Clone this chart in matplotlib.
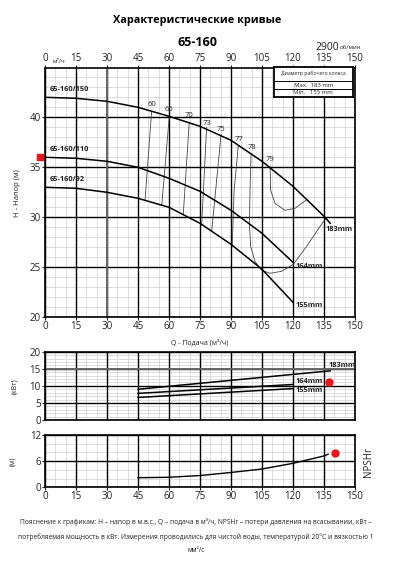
import matplotlib
matplotlib.use("Agg")
import matplotlib.pyplot as plt
import numpy as np

plt.rcParams['font.family'] = ['Open Sans', 'DejaVu Sans']

# ---------------- data ----------------
q_ticks = [0, 15, 30, 45, 60, 75, 90, 105, 120, 135, 150]
h_ticks = [20, 25, 30, 35, 40]

q_h183 = [0, 15, 30, 45, 60, 75, 90, 105, 120, 135, 138]
h_183 = [42.0, 41.9, 41.6, 41.0, 40.1, 39.1, 37.7, 35.6, 33.1, 30.1, 29.4]
q_h164 = [0, 15, 30, 45, 60, 75, 90, 105, 120]
h_164 = [36.0, 35.9, 35.6, 35.0, 33.9, 32.6, 30.7, 28.4, 25.5]
q_h155 = [0, 15, 30, 45, 60, 75, 90, 105, 120]
h_155 = [33.0, 32.9, 32.5, 31.9, 31.0, 29.4, 27.3, 24.8, 21.5]

eff_labels = ["60", "65", "70", "73", "75", "77", "78", "79"]
eff_q = [
    [51.6, 48.4],
    [60.1, 56.5],
    [69.8, 66.9],
    [78.2, 75.8],
    [85.2, 80.7],
    [93.5, 91.5, 90.6],
    [99.7, 99.2, 98.9, 99.5, 101.6, 104.8, 108.9, 114.5, 120.2, 126.6, 133.1, 136.0],
    [108.9, 109.2, 111.3, 116.1, 121.0, 126.9],
]
eff_h = [
    [40.6, 31.7],
    [40.0, 31.2],
    [39.5, 30.3],
    [39.0, 29.2],
    [38.3, 28.7],
    [37.1, 32.7, 27.1],
    [36.4, 32.7, 29.4, 27.1, 25.6, 24.7, 24.4, 24.6, 25.3, 27.1, 29.1, 29.9],
    [35.1, 32.7, 31.4, 30.7, 30.9, 31.8],
]
eff_label_q = [51.6, 60.0, 69.8, 78.5, 85.2, 93.8, 100.0, 108.9]
eff_label_h = [41.3, 40.8, 40.2, 39.4, 38.8, 37.8, 37.0, 35.8]

p_ticks = [0, 5, 10, 15, 20]
q_p183 = [45, 138]
p_183 = [9.0, 14.4]
q_p164 = [45, 120]
p_164 = [7.8, 10.4]
q_p155 = [45, 120]
p_155 = [6.6, 9.2]

n_ticks = [0, 6, 12]
q_npsh = [45, 60, 75, 90, 105, 120, 135, 137]
npsh = [2.2, 2.3, 2.7, 3.4, 4.2, 5.5, 7.2, 7.6]

# ---------------- figure ----------------
W, H = 394, 567
fig = plt.figure(figsize=(W / 100, H / 100), dpi=100)

def fx(px):
    return px / W

def fy(py):
    return 1 - py / H

def frac_box(x0, y0, x1, y1):
    return [fx(x0), fy(y1), fx(x1) - fx(x0), fy(y0) - fy(y1)]

TXT = '#222222'

def grid(ax, xminor, yminor, ymajor, ylim):
    for x in np.arange(0, 150.01, xminor):
        ax.axvline(x, color='#cfcfcf', lw=0.5, zorder=0)
    for y in np.arange(ylim[0], ylim[1] + 0.01, yminor):
        ax.axhline(y, color='#cfcfcf', lw=0.5, zorder=0)
    for x in q_ticks:
        ax.axvline(x, color='black', lw=1.0, zorder=1)
    for y in ymajor:
        ax.axhline(y, color='black', lw=1.0, zorder=1)
    for s in ax.spines.values():
        s.set_linewidth(1.2)
    ax.set_xlim(0, 150)
    ax.set_ylim(*ylim)
    ax.tick_params(length=2, width=0.8, labelsize=7, colors=TXT, pad=1)

# ---- main H-Q chart ----
ax = fig.add_axes(frac_box(45, 68.5, 355, 317.3))
grid(ax, 5, 1, h_ticks, (20, 44.88))
ax.axvline(30, color='#666666', lw=1.4, zorder=1)
ax.set_xticks(q_ticks)
ax.set_yticks(h_ticks)
ax.tick_params(axis='x', top=True, labeltop=True, bottom=True, labelbottom=True)

ax.plot(q_h183, h_183, color='black', lw=1.1, zorder=3)
ax.plot(q_h164, h_164, color='black', lw=1.1, zorder=3)
ax.plot(q_h155, h_155, color='black', lw=1.1, zorder=3)
for qs, hs in zip(eff_q, eff_h):
    ax.plot(qs, hs, color='#444444', lw=0.6, zorder=2)
for lab, lq, lh in zip(eff_labels, eff_label_q, eff_label_h):
    ax.text(lq, lh, lab, fontsize=5.5, color=TXT, ha='center', va='center', zorder=4)

ax.text(2.5, h_183[0] + 0.45, "65-160/150", fontsize=5.3, fontweight='bold', color=TXT, va='bottom')
ax.text(2.5, h_164[0] + 0.45, "65-160/110", fontsize=5.3, fontweight='bold', color=TXT, va='bottom')
ax.text(2.5, h_155[0] + 0.45, "65-160/92", fontsize=5.3, fontweight='bold', color=TXT, va='bottom')
ax.text(135.5, 28.8, "183mm", fontsize=5.3, fontweight='bold', color=TXT, va='center')
ax.text(121.0, 25.1, "164mm", fontsize=5.3, fontweight='bold', color=TXT, va='center')
ax.text(121.0, 21.2, "155mm", fontsize=5.3, fontweight='bold', color=TXT, va='center')
ax.plot([-2.4], [36.0], marker='s', ms=5, color='#e8161b', clip_on=False, zorder=5)

ax.set_xlabel("Q - Подача (м³/ч)", fontsize=5, color=TXT, labelpad=5)
ax.set_ylabel("H - Напор (м)", fontsize=5.5, color=TXT, labelpad=6)

fig.text(fx(59), fy(61.5), "м³/ч", fontsize=4.5, color=TXT, ha='center', va='center')

# legend table
lx0, lx1, ly0, ly1, ly2, ly3 = 273.5, 353, 66.7, 81, 88.5, 96.7
lax = fig.add_axes(frac_box(lx0, ly0, lx1, ly3))
lax.set_xlim(0, 1)
lax.set_ylim(ly3, ly0)
lax.set_xticks([])
lax.set_yticks([])
lax.set_facecolor('white')
for s in lax.spines.values():
    s.set_linewidth(1.3)
lax.axhline(ly1, color='black', lw=0.7)
lax.axhline(ly2, color='black', lw=0.7)
lax.text(0.5, (ly0 + ly1) / 2, "Диаметр рабочего колеса", fontsize=3.7, ha='center', va='center', color=TXT)
lax.text(0.5, (ly1 + ly2) / 2 + 0.3, "Max.  183 mm", fontsize=4.3, ha='center', va='center', color=TXT)
lax.text(0.5, (ly2 + ly3) / 2 + 0.3, "Min.   155 mm", fontsize=4.3, ha='center', va='center', color=TXT)

# ---- power chart ----
axp = fig.add_axes(frac_box(45, 351.7, 355, 420))
grid(axp, 5, 1, p_ticks, (0, 20))
axp.axhline(15, color='#666666', lw=1.4, zorder=1)
axp.set_xticks(q_ticks)
axp.set_xticklabels([])
axp.tick_params(axis='x', length=0)
axp.set_yticks(p_ticks)
axp.plot(q_p183, p_183, color='black', lw=1.1, zorder=3)
axp.plot(q_p164, p_164, color='black', lw=1.1, zorder=3)
axp.plot(q_p155, p_155, color='black', lw=1.1, zorder=3)
axp.text(137.3, 16.0, "183mm", fontsize=5.3, fontweight='bold', color=TXT, va='center')
axp.text(121.0, 11.4, "164mm", fontsize=5.3, fontweight='bold', color=TXT, va='center')
axp.text(121.0, 8.7, "155mm", fontsize=5.3, fontweight='bold', color=TXT, va='center')
axp.plot([137.3], [11.1], marker='o', ms=5, color='#e8161b', clip_on=False, zorder=5)
axp.set_ylabel("(кВт)", fontsize=5, color=TXT, labelpad=8)

# ---- NPSH chart ----
axn = fig.add_axes(frac_box(45, 435, 355, 487.3))
grid(axn, 5, 2, n_ticks, (0, 12))
axn.set_xticks(q_ticks)
axn.set_yticks(n_ticks)
axn.plot(q_npsh, npsh, color='black', lw=1.0, zorder=3)
axn.plot([140.3], [7.8], marker='o', ms=5, color='#e8161b', clip_on=False, zorder=5)
axn.set_ylabel("(м)", fontsize=5, color=TXT, labelpad=10)
fig.text(fx(368), fy(462), "NPSHr", fontsize=7, rotation=90, color=TXT, ha='center', va='center')

# ---- titles ----
fig.text(fx(197), fy(20.5), "Характеристические кривые", fontsize=7.8, fontweight='bold', ha='center', va='center', color='black')
fig.text(fx(198), fy(43), "65-160", fontsize=9, fontweight='bold', ha='center', va='center', color='black')
fig.text(fx(339), fy(47), "2900", fontsize=7.5, ha='right', va='center', color=TXT)
fig.text(fx(339.5), fy(47.5), "об/мин", fontsize=4.3, ha='left', va='center', color=TXT)

# ---- caption ----
cap1 = "Пояснение к графикам: H – напор в м.в.с., Q – подача в м³/ч, NPSHr – потери давления на всасывании, кВт –"
cap2 = "потребляемая мощность в кВт. Измерения проводились для чистой воды, температурой 20°C и вязкостью 1"
cap3 = "мм²/с"
fig.text(fx(196), fy(522), cap1, fontsize=4.75, ha='center', va='center', color=TXT)
fig.text(fx(196), fy(537), cap2, fontsize=4.75, ha='center', va='center', color=TXT)
fig.text(fx(196), fy(550), cap3, fontsize=4.75, ha='center', va='center', color=TXT)

fig.savefig("out.png", dpi=100)
